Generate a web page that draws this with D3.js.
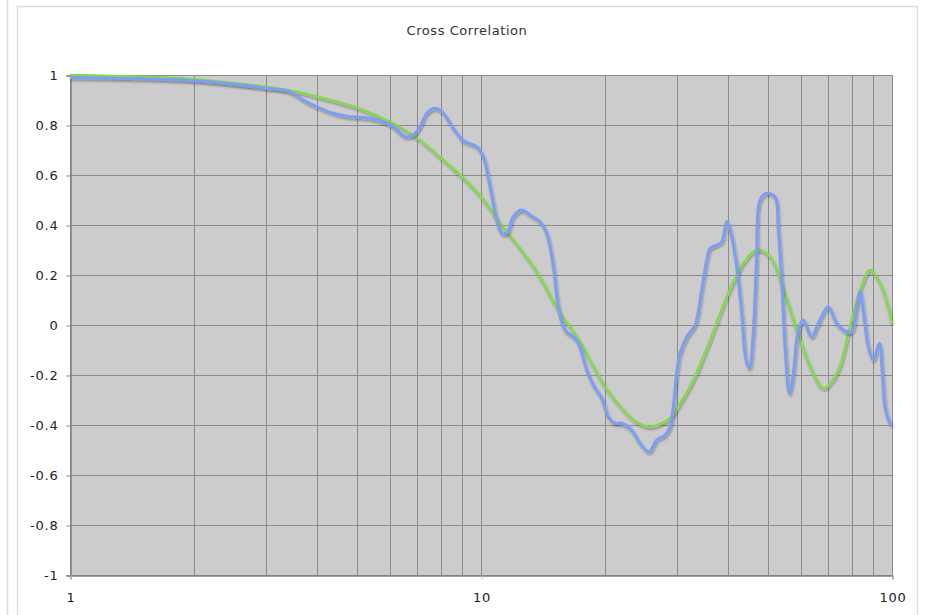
<!DOCTYPE html>
<html>
<head>
<meta charset="utf-8">
<script src="https://cdn.jsdelivr.net/npm/d3@7"></script>
<style>
  html, body { margin: 0; padding: 0; background: #fff; }
  svg { display: block; }
  text { font-family: "DejaVu Sans", Verdana, sans-serif; }
</style>
</head>
<body>
<svg id="chart" width="925" height="615"></svg>
<script>
const title = "Cross Correlation";
const yTicks = [-1, -0.8, -0.6, -0.4, -0.2, 0, 0.2, 0.4, 0.6, 0.8, 1];
const xTickLabels = [1, 10, 100];
const xGrid = [1,2,3,4,5,6,7,8,9,10,20,30,40,50,60,70,80,90,100];

// Smooth model curve (green)
const greenLag = [1, 1.5, 2, 2.5, 3, 3.5, 4, 5, 6, 7, 8, 9, 10, 11.12, 13.41, 15.57, 17.09, 20.03, 22.19, 24, 25.78, 28.83, 30.5, 32.85, 36.08, 39.62, 43.47, 46.86, 50.5, 54.4, 58.6, 63.2, 68.1, 73.4, 79.0, 83.6, 88.4, 93.5, 100];
const greenVal = [1.0, 0.993, 0.983, 0.968, 0.953, 0.935, 0.913, 0.869, 0.813, 0.747, 0.667, 0.592, 0.513, 0.407, 0.233, 0.047, -0.047, -0.247, -0.34, -0.39, -0.407, -0.373, -0.313, -0.22, -0.06, 0.113, 0.247, 0.30, 0.273, 0.14, -0.02, -0.167, -0.253, -0.193, -0.007, 0.14, 0.22, 0.167, 0.007];

// Measured curve (blue)
const blueLag = [1, 1.5, 2, 2.5, 3, 3.43, 3.69, 3.984, 4.371, 4.801, 5.27, 5.786, 6.118, 6.533, 6.844, 7.106, 7.378, 7.73, 8.094, 8.563, 9.056, 9.761, 10.13, 10.52, 10.92, 11.23, 11.55, 11.98, 12.56, 13.16, 13.92, 14.45, 15.0, 15.42, 16.01, 16.77, 17.25, 18.08, 18.76, 19.67, 20.4, 21.18, 22.0, 23.26, 24.37, 25.63, 26.76, 28.04, 28.84, 29.37, 29.94, 30.5, 31.66, 33.17, 34.43, 35.41, 36.08, 37.46, 38.52, 39.62, 40.74, 41.89, 43.08, 44.14, 44.96, 45.97, 46.86, 47.74, 49.55, 51.91, 52.89, 53.9, 54.92, 56.25, 57.53, 59.16, 60.84, 63.76, 66.17, 69.98, 73.35, 77.6, 79.8, 82.07, 83.6, 85.5, 87.58, 90.07, 93.15, 94.71, 96.16, 98.88, 100];
const blueVal = [0.99, 0.985, 0.977, 0.963, 0.947, 0.933, 0.9, 0.873, 0.847, 0.833, 0.829, 0.813, 0.793, 0.753, 0.76, 0.793, 0.847, 0.867, 0.847, 0.787, 0.737, 0.713, 0.673, 0.553, 0.42, 0.367, 0.367, 0.433, 0.46, 0.44, 0.413, 0.367, 0.233, 0.073, -0.02, -0.047, -0.073, -0.18, -0.24, -0.293, -0.367, -0.393, -0.393, -0.42, -0.473, -0.507, -0.46, -0.44, -0.407, -0.327, -0.193, -0.113, -0.047, 0.0, 0.14, 0.26, 0.307, 0.32, 0.333, 0.413, 0.353, 0.233, 0.047, -0.14, -0.173, -0.033, 0.273, 0.50, 0.527, 0.513, 0.38, 0.18, -0.087, -0.273, -0.193, -0.02, 0.02, -0.047, 0.007, 0.073, 0.007, -0.027, -0.027, 0.073, 0.133, 0.033, -0.087, -0.14, -0.073, -0.193, -0.327, -0.393, -0.4];

const svg = d3.select("#chart");
const W = 925, H = 615;
const plot = {left: 70, right: 892, top: 75, bottom: 575};
const FONT = '"DejaVu Sans", Verdana, sans-serif';

// outer frames
svg.append("line").attr("x1", 7.5).attr("x2", 7.5).attr("y1", 0).attr("y2", H)
  .attr("stroke", "#dcdcdc").attr("stroke-width", 1.5);
svg.append("rect").attr("x", 17.5).attr("y", 6.5).attr("width", 900).attr("height", 640)
  .attr("fill", "#fff").attr("stroke", "#dcdcdc").attr("stroke-width", 1.5);

svg.append("text").attr("x", 467).attr("y", 35).attr("text-anchor", "middle")
  .attr("font-size", 13).attr("letter-spacing", "0.55px").attr("fill", "#333").text(title);

const x = d3.scaleLog().domain([1, 100]).range([plot.left, plot.right]);
const y = d3.scaleLinear().domain([-1, 1]).range([plot.bottom, plot.top]);

const defs = svg.append("defs");
const f = defs.append("filter").attr("id", "shadow").attr("x", "-5%").attr("y", "-5%").attr("width", "110%").attr("height", "120%");
f.append("feDropShadow").attr("dx", 1).attr("dy", 2).attr("stdDeviation", 1.2)
  .attr("flood-color", "#000").attr("flood-opacity", 0.3);

svg.append("rect").attr("x", plot.left).attr("y", plot.top)
  .attr("width", plot.right - plot.left).attr("height", plot.bottom - plot.top)
  .attr("fill", "#cccccc");

const g = svg.append("g");
g.selectAll("line.vg").data(xGrid).join("line")
  .attr("x1", d => Math.round(x(d)) + 0.5).attr("x2", d => Math.round(x(d)) + 0.5)
  .attr("y1", plot.top).attr("y2", plot.bottom)
  .attr("stroke", "#8c8c8c").attr("stroke-width", 1);
g.selectAll("line.hg").data(yTicks).join("line")
  .attr("x1", plot.left).attr("x2", plot.right)
  .attr("y1", d => Math.round(y(d)) + 0.5).attr("y2", d => Math.round(y(d)) + 0.5)
  .attr("stroke", "#8c8c8c").attr("stroke-width", 1);

// axes
const yAxis = d3.axisLeft(y).tickValues(yTicks).tickSize(4).tickPadding(8)
  .tickFormat(d => String(+d.toFixed(1)));
const ya = svg.append("g").attr("transform", `translate(${plot.left + 0.5},0.5)`).call(yAxis);
ya.select(".domain").attr("stroke", "#808080").attr("stroke-width", 1.5);
ya.selectAll(".tick line").attr("stroke", "#808080");
ya.selectAll("text").attr("font-size", 13).attr("letter-spacing", "0.8px").attr("fill", "#222").attr("font-family", FONT);

const xAxis = d3.axisBottom(x).tickValues(xTickLabels).tickSize(4).tickPadding(13)
  .tickFormat(d => String(d));
const xa = svg.append("g").attr("transform", `translate(0.5,${plot.bottom + 0.5})`).call(xAxis);
xa.select(".domain").attr("stroke", "#808080").attr("stroke-width", 1.5);
xa.selectAll(".tick line").attr("stroke", "#c8c8c8");
xa.selectAll("text").attr("font-size", 13).attr("letter-spacing", "0.8px").attr("fill", "#222").attr("font-family", FONT);

// series
const line = d3.line().x(d => x(d[0])).y(d => y(d[1])).curve(d3.curveCatmullRom.alpha(0.5));
const green = greenLag.map((l, i) => [l, greenVal[i]]);
const blue = blueLag.map((l, i) => [l, blueVal[i]]);

svg.append("path").datum(green).attr("d", line).attr("fill", "none")
  .attr("stroke", "#82d94c").attr("stroke-width", 2.5).attr("filter", "url(#shadow)");
svg.append("path").datum(blue).attr("d", line).attr("fill", "none")
  .attr("stroke", "#7b9ef2").attr("stroke-width", 3).attr("filter", "url(#shadow)");
</script>
</body>
</html>
